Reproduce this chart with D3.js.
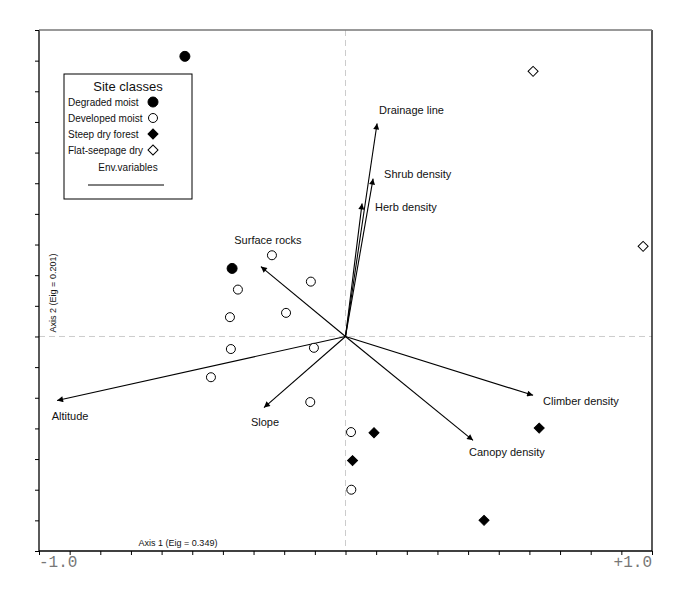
<!DOCTYPE html>
<html>
<head>
<meta charset="utf-8">
<script src="https://cdn.jsdelivr.net/npm/d3@7"></script>
<style>
  body { margin: 0; background: #fff; }
  svg { display: block; }
  text { font-family: "Liberation Sans", Arial, sans-serif; fill: #111; }
  .tickLabel { font-family: "Liberation Mono", "Courier New", monospace; fill: #777; }
</style>
</head>
<body>
<div class="chart"></div>
<script>
// CCA-style ordination biplot: sites + environmental variable arrows

// site classes (legend order)
var classNames = ["Degraded moist", "Developed moist", "Steep dry forest", "Flat-seepage dry"];

// site scores, class index per site
var siteX = [-0.524, -0.370,
             -0.240, -0.113, -0.351, -0.194, -0.377, -0.374, -0.103, -0.439, -0.115, 0.018, 0.019,
              0.093, 0.023, 0.632, 0.452,
              0.612, 0.971];
var siteY = [ 0.914, 0.222,
              0.265, 0.179, 0.153, 0.077, 0.063, -0.041, -0.037, -0.133, -0.214, -0.312, -0.500,
             -0.314, -0.405, -0.299, -0.600,
              0.865, 0.294];
var siteClass = [0, 0,
                 1, 1, 1, 1, 1, 1, 1, 1, 1, 1, 1,
                 2, 2, 2, 2,
                 3, 3];

// environmental variables (arrow tips)
var envNames = ["Drainage line", "Shrub density", "Herb density", "Surface rocks",
                "Altitude", "Slope", "Climber density", "Canopy density"];
var envX = [0.103, 0.090, 0.054, -0.276, -0.941, -0.266, 0.612, 0.416];
var envY = [0.695, 0.515, 0.434, 0.228, -0.209, -0.232, -0.192, -0.339];

// axis text
var tickLabels = ["-1.0", "+1.0"];
var axis1Title = "Axis 1  (Eig = 0.349)";
var axis2Title = "Axis 2  (Eig = 0.201)";

// label placement relative to arrow tip [dx, dy, anchor]
var labelNudge = [[2, -9, "start"], [11, -1, "start"], [13, 8, "start"], [7, -23, "middle"],
                  [13, 19, "middle"], [1, 18, "middle"], [10, 10, "start"], [-4, 16, "start"]];

var svgWidth = 685;
var svgHeight = 597;

var margin = { top: 30, right: 33, bottom: 46, left: 39 };
var width = svgWidth - margin.left - margin.right;
var height = svgHeight - margin.top - margin.bottom;

var svg = d3.select(".chart")
    .append("svg")
    .attr("width", svgWidth)
    .attr("height", svgHeight);

var chartGroup = svg.append("g")
    .attr("transform", `translate(${margin.left}, ${margin.top})`);

var xScale = d3.scaleLinear().domain([-1, 1]).range([0, width]);
var yScale = d3.scaleLinear().domain([-0.7, 1.0]).range([height, 0]);

// dashed zero lines
chartGroup.append("line")
    .attr("x1", xScale(0)).attr("x2", xScale(0))
    .attr("y1", 0).attr("y2", height)
    .attr("stroke", "#ccc").attr("stroke-dasharray", "6,4");
chartGroup.append("line")
    .attr("x1", 0).attr("x2", width)
    .attr("y1", yScale(0)).attr("y2", yScale(0))
    .attr("stroke", "#ccc").attr("stroke-dasharray", "6,4");

// axes with ticks every 0.1
var xTicks = d3.range(-10, 11).map(d => d / 10);
var yTicks = d3.range(-7, 11).map(d => d / 10);

var bottomAxis = d3.axisBottom(xScale).tickValues(xTicks).tickSize(4).tickFormat("");
var leftAxis = d3.axisLeft(yScale).tickValues(yTicks).tickSize(4).tickFormat("");

chartGroup.append("g")
    .attr("transform", `translate(0, ${height})`)
    .call(bottomAxis)
    .call(g => g.select(".domain").remove());
chartGroup.append("g")
    .call(leftAxis)
    .call(g => g.select(".domain").remove());

// frame
chartGroup.append("line").attr("x1", 0).attr("x2", 0).attr("y1", 0).attr("y2", height)
    .attr("stroke", "#000").attr("stroke-width", 1.3);
chartGroup.append("line").attr("x1", 0).attr("x2", width).attr("y1", height).attr("y2", height)
    .attr("stroke", "#000").attr("stroke-width", 1.3);
chartGroup.append("line").attr("x1", width).attr("x2", width).attr("y1", 0).attr("y2", height)
    .attr("stroke", "#000").attr("stroke-width", 1.3);
chartGroup.append("line").attr("x1", 0).attr("x2", width).attr("y1", 0).attr("y2", 0)
    .attr("stroke", "#777").attr("stroke-width", 1.5);

// end tick labels
chartGroup.append("text")
    .attr("class", "tickLabel")
    .attr("x", xScale(-1)).attr("y", height + 16)
    .attr("font-size", 16).attr("text-anchor", "start")
    .text(tickLabels[0]);
chartGroup.append("text")
    .attr("class", "tickLabel")
    .attr("x", xScale(1)).attr("y", height + 16)
    .attr("font-size", 16).attr("text-anchor", "end")
    .text(tickLabels[1]);

// axis titles
chartGroup.append("text")
    .attr("x", 139).attr("y", height - 5)
    .attr("font-size", 9)
    .attr("text-anchor", "middle")
    .text(axis1Title);
chartGroup.append("text")
    .attr("transform", `translate(17, ${263}) rotate(-90)`)
    .attr("font-size", 9)
    .attr("text-anchor", "middle")
    .text(axis2Title);

// arrow marker
svg.append("defs").append("marker")
    .attr("id", "arrow")
    .attr("viewBox", "0 0 10 10")
    .attr("refX", 10).attr("refY", 5)
    .attr("markerUnits", "userSpaceOnUse")
    .attr("markerWidth", 8).attr("markerHeight", 6)
    .attr("orient", "auto")
    .append("path")
    .attr("d", "M0,0 L10,5 L0,10 Z")
    .attr("fill", "#000");

var envData = envNames.map((n, i) => ({ name: n, x: envX[i], y: envY[i], nudge: labelNudge[i] }));

chartGroup.selectAll(".envArrow")
    .data(envData)
    .enter()
    .append("line")
    .attr("class", "envArrow")
    .attr("x1", xScale(0)).attr("y1", yScale(0))
    .attr("x2", d => xScale(d.x)).attr("y2", d => yScale(d.y))
    .attr("stroke", "#000").attr("stroke-width", 1.1)
    .attr("marker-end", "url(#arrow)");

chartGroup.selectAll(".envLabel")
    .data(envData)
    .enter()
    .append("text")
    .attr("class", "envLabel")
    .attr("x", d => xScale(d.x) + d.nudge[0])
    .attr("y", d => yScale(d.y) + d.nudge[1])
    .attr("text-anchor", d => d.nudge[2])
    .attr("font-size", 11)
    .text(d => d.name);

// site symbols
var diamond = d3.symbol().type(d3.symbolSquare).size(50);
function drawSymbol(sel, cls) {
    if (cls === 0 || cls === 1) {
        sel.append("circle")
            .attr("r", cls === 0 ? 5 : 4.5)
            .attr("fill", cls === 0 ? "#000" : "#fff")
            .attr("stroke", "#000").attr("stroke-width", 1);
    } else {
        sel.append("path")
            .attr("d", diamond())
            .attr("transform", "rotate(45)")
            .attr("fill", cls === 2 ? "#000" : "#fff")
            .attr("stroke", "#000").attr("stroke-width", 1);
    }
}

var siteData = siteX.map((x, i) => ({ x: x, y: siteY[i], c: siteClass[i] }));

chartGroup.selectAll(".site")
    .data(siteData)
    .enter()
    .append("g")
    .attr("class", "site")
    .attr("transform", d => `translate(${xScale(d.x)}, ${yScale(d.y)})`)
    .each(function(d) { drawSymbol(d3.select(this), d.c); });

// legend
var legend = svg.append("g").attr("transform", "translate(64, 74)");
legend.append("rect")
    .attr("width", 128).attr("height", 125)
    .attr("fill", "#fff").attr("stroke", "#000").attr("stroke-width", 1);
legend.append("text")
    .attr("x", 64).attr("y", 17)
    .attr("font-size", 13).attr("text-anchor", "middle")
    .text("Site classes");

var legendRows = legend.selectAll(".legendRow")
    .data(classNames)
    .enter()
    .append("g")
    .attr("class", "legendRow")
    .attr("transform", (d, i) => `translate(0, ${28 + i * 16})`);
legendRows.append("text")
    .attr("x", 4).attr("y", 3.5)
    .attr("font-size", 10)
    .text(d => d);
legendRows.append("g")
    .attr("transform", "translate(89, 0)")
    .each(function(d, i) { drawSymbol(d3.select(this), i); });

legend.append("text")
    .attr("x", 64).attr("y", 97)
    .attr("font-size", 10).attr("text-anchor", "middle")
    .text("Env.variables");
legend.append("line")
    .attr("x1", 24).attr("x2", 100)
    .attr("y1", 111).attr("y2", 111)
    .attr("stroke", "#000").attr("stroke-width", 1);
</script>
</body>
</html>
